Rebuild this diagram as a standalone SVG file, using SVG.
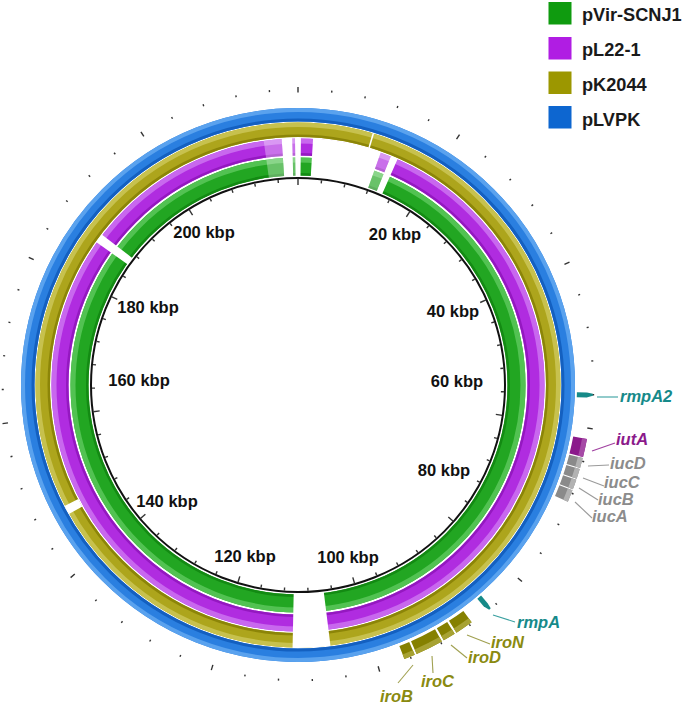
<svg xmlns="http://www.w3.org/2000/svg" xmlns:xlink="http://www.w3.org/1999/xlink" width="685" height="705" viewBox="0 0 685 705">
<style>
.k{font:bold 16.5px "Liberation Sans",Arial,sans-serif;text-anchor:middle;fill:#111}
.gl{font:italic bold 16.5px "Liberation Sans",Arial,sans-serif}
.lg{font:bold 18.2px "Liberation Sans",Arial,sans-serif;fill:#1a1a1a}
.ring{fill:none}
.gap{fill:none;stroke:#fff}
.sec{fill:none}
.ld{stroke-width:1.1;fill:none}
.tk{stroke:#333;stroke-width:1.4}
.teal{fill:#168a88}.tealt{fill:#168a8a}
.pur{stroke:#8b1a8b}.purl{stroke:#a64aa6}
.gry{stroke:#8a8a8a}.gryl{stroke:#b2b2b2}
.olv{stroke:#858000}.olvl{stroke:#a7a232}
</style>
<defs>
<g id="t"><line class="tk" x1="298" y1="88.7" x2="298" y2="90.7"/><line class="tk" x1="298" y1="179" x2="298" y2="182"/></g>
<g id="T"><line class="tk" x1="298" y1="87" x2="298" y2="92.5" stroke-width="1.6"/><line class="tk" x1="298" y1="178.5" x2="298" y2="185"/></g>
</defs>

<g id="legend">
<rect x="548.5" y="2" width="23" height="22.5" fill="#0f9b0f"/><text class="lg" x="582" y="21">pVir-SCNJ1</text>
<rect x="548.5" y="37" width="23" height="22.5" fill="#b01de3"/><text class="lg" x="582" y="56">pL22-1</text>
<rect x="548.5" y="71.5" width="23" height="22.5" fill="#9c9700"/><text class="lg" x="582" y="91">pK2044</text>
<rect x="548.5" y="106" width="23" height="22.5" fill="#0d66d0"/><text class="lg" x="582" y="126">pLVPK</text>
</g>

<g id="rings">
<g id="ring-pVir-SCNJ1">
<circle class="ring" cx="298" cy="385" r="218.5" stroke="#22a622" stroke-width="18"/>
<circle class="ring" cx="298" cy="385" r="225" stroke="#52c252" stroke-width="5"/>
<circle class="ring" cx="298" cy="385" r="210.75" stroke="#138a13" stroke-width="2.5"/>
</g>
<g id="ring-pL22-1">
<circle class="ring" cx="298" cy="385" r="238" stroke="#b02ce0" stroke-width="17"/>
<circle class="ring" cx="298" cy="385" r="244" stroke="#c868ee" stroke-width="5"/>
<circle class="ring" cx="298" cy="385" r="230.75" stroke="#9418c0" stroke-width="2.5"/>
</g>
<g id="ring-pK2044">
<circle class="ring" cx="298" cy="385" r="255.25" stroke="#ada51c" stroke-width="14.5"/>
<circle class="ring" cx="298" cy="385" r="260.25" stroke="#c7c14e" stroke-width="4.5"/>
<circle class="ring" cx="298" cy="385" r="249.25" stroke="#8c8508" stroke-width="2.5"/>
</g>
<g id="ring-pLVPK">
<circle class="ring" cx="298" cy="385" r="270.25" stroke="#2a7fe0" stroke-width="13.5"/>
<circle class="ring" cx="298" cy="385" r="275" stroke="#5aa2ee" stroke-width="4"/>
<circle class="ring" cx="298" cy="385" r="265" stroke="#1460c0" stroke-width="3"/>
</g>
<g id="light-patches" opacity="0.32">
<circle class="gap" cx="298" cy="385" r="227.9" stroke-width="38.8" stroke-dasharray="16.71 3000" transform="rotate(-98 298 385)"/>
<circle class="gap" cx="298" cy="385" r="227.9" stroke-width="38.8" stroke-dasharray="9.94 3000" transform="rotate(-70.4 298 385)"/>
<circle class="gap" cx="298" cy="385" r="227.9" stroke-width="38.8" stroke-dasharray="2.39 3000" transform="rotate(-91.3 298 385)"/>
</g>
<g id="gaps">
<circle class="gap" cx="298" cy="385" r="227.9" stroke-width="38.8" stroke-dasharray="9.94 3000" transform="rotate(-93.8 298 385)"/>
<circle class="gap" cx="298" cy="385" r="227.9" stroke-width="38.8" stroke-dasharray="5.57 3000" transform="rotate(-90.7 298 385)"/>
<circle class="gap" cx="298" cy="385" r="227.9" stroke-width="38.8" stroke-dasharray="64.04 3000" transform="rotate(-86.5 298 385)"/>
<circle class="gap" cx="298" cy="385" r="227.9" stroke-width="38.8" stroke-dasharray="6.76 3000" transform="rotate(-67.9 298 385)"/>
<circle class="gap" cx="298" cy="385" r="227.9" stroke-width="38.8" stroke-dasharray="8.75 3000" transform="rotate(215.3 298 385)"/>
<circle class="gap" cx="298" cy="385" r="255.25" stroke-width="15.5" stroke-dasharray="8.91 3000" transform="rotate(150.6 298 385)"/>
<circle class="gap" cx="298" cy="385" r="255.25" stroke-width="15.5" stroke-dasharray="1.56 3000" transform="rotate(-73.5 298 385)"/>
<circle class="gap" cx="298" cy="385" r="235.65" stroke-width="54.6" stroke-dasharray="34.14 3000" transform="rotate(82.9 298 385)"/>
</g>
<circle id="backbone" cx="298" cy="385" r="207" fill="none" stroke="#111" stroke-width="2"/>
</g>

<g id="ticks">
<use xlink:href="#T"/>
<use xlink:href="#t" transform="rotate(6.564 298 385)"/>
<use xlink:href="#t" transform="rotate(13.128 298 385)"/>
<use xlink:href="#t" transform="rotate(19.691 298 385)"/>
<use xlink:href="#t" transform="rotate(26.255 298 385)"/>
<use xlink:href="#T" transform="rotate(32.819 298 385)"/>
<use xlink:href="#t" transform="rotate(39.383 298 385)"/>
<use xlink:href="#t" transform="rotate(45.947 298 385)"/>
<use xlink:href="#t" transform="rotate(52.511 298 385)"/>
<use xlink:href="#t" transform="rotate(59.074 298 385)"/>
<use xlink:href="#T" transform="rotate(65.638 298 385)"/>
<use xlink:href="#t" transform="rotate(72.202 298 385)"/>
<use xlink:href="#t" transform="rotate(78.766 298 385)"/>
<use xlink:href="#t" transform="rotate(85.330 298 385)"/>
<use xlink:href="#t" transform="rotate(91.893 298 385)"/>
<use xlink:href="#T" transform="rotate(98.457 298 385)"/>
<use xlink:href="#t" transform="rotate(105.021 298 385)"/>
<use xlink:href="#t" transform="rotate(111.585 298 385)"/>
<use xlink:href="#t" transform="rotate(118.149 298 385)"/>
<use xlink:href="#t" transform="rotate(124.713 298 385)"/>
<use xlink:href="#T" transform="rotate(131.276 298 385)"/>
<use xlink:href="#t" transform="rotate(137.840 298 385)"/>
<use xlink:href="#t" transform="rotate(144.404 298 385)"/>
<use xlink:href="#t" transform="rotate(150.968 298 385)"/>
<use xlink:href="#t" transform="rotate(157.532 298 385)"/>
<use xlink:href="#T" transform="rotate(164.096 298 385)"/>
<use xlink:href="#t" transform="rotate(170.659 298 385)"/>
<use xlink:href="#t" transform="rotate(177.223 298 385)"/>
<use xlink:href="#t" transform="rotate(183.787 298 385)"/>
<use xlink:href="#t" transform="rotate(190.351 298 385)"/>
<use xlink:href="#T" transform="rotate(196.915 298 385)"/>
<use xlink:href="#t" transform="rotate(203.478 298 385)"/>
<use xlink:href="#t" transform="rotate(210.042 298 385)"/>
<use xlink:href="#t" transform="rotate(216.606 298 385)"/>
<use xlink:href="#t" transform="rotate(223.170 298 385)"/>
<use xlink:href="#T" transform="rotate(229.734 298 385)"/>
<use xlink:href="#t" transform="rotate(236.297 298 385)"/>
<use xlink:href="#t" transform="rotate(242.861 298 385)"/>
<use xlink:href="#t" transform="rotate(249.425 298 385)"/>
<use xlink:href="#t" transform="rotate(255.989 298 385)"/>
<use xlink:href="#T" transform="rotate(262.553 298 385)"/>
<use xlink:href="#t" transform="rotate(269.117 298 385)"/>
<use xlink:href="#t" transform="rotate(275.680 298 385)"/>
<use xlink:href="#t" transform="rotate(282.244 298 385)"/>
<use xlink:href="#t" transform="rotate(288.808 298 385)"/>
<use xlink:href="#T" transform="rotate(295.372 298 385)"/>
<use xlink:href="#t" transform="rotate(301.936 298 385)"/>
<use xlink:href="#t" transform="rotate(308.499 298 385)"/>
<use xlink:href="#t" transform="rotate(315.063 298 385)"/>
<use xlink:href="#t" transform="rotate(321.627 298 385)"/>
<use xlink:href="#T" transform="rotate(328.191 298 385)"/>
<use xlink:href="#t" transform="rotate(334.755 298 385)"/>
<use xlink:href="#t" transform="rotate(341.319 298 385)"/>
<use xlink:href="#t" transform="rotate(347.882 298 385)"/>
<use xlink:href="#t" transform="rotate(354.446 298 385)"/>
</g>

<g id="scale-labels">
<text class="k" x="395" y="240">20 kbp</text>
<text class="k" x="453" y="317">40 kbp</text>
<text class="k" x="457" y="387">60 kbp</text>
<text class="k" x="444" y="476">80 kbp</text>
<text class="k" x="348" y="563">100 kbp</text>
<text class="k" x="245" y="562">120 kbp</text>
<text class="k" x="167" y="507">140 kbp</text>
<text class="k" x="139" y="386">160 kbp</text>
<text class="k" x="148" y="313">180 kbp</text>
<text class="k" x="204" y="238">200 kbp</text>
</g>

<g id="genes">
<g id="rmpA2">
<polygon class="teal" points="295.5,106 300.5,106 300.5,96 298.5,90 296.5,90 295.5,96" transform="rotate(92 298 385)"/>
<line class="ld" x1="597" y1="397" x2="618" y2="397" stroke="#3aa0a0"/>
<text class="gl tealt" x="620" y="402">rmpA2</text>
</g>
<g id="iutA">
<circle class="sec pur" cx="298" cy="385" r="287" stroke-width="14" stroke-dasharray="18.03 3000" transform="rotate(10.6 298 385)"/>
<circle class="sec purl" cx="298" cy="385" r="291.5" stroke-width="5" stroke-dasharray="18.32 3000" transform="rotate(10.6 298 385)"/>
<line class="ld" x1="592" y1="451" x2="615" y2="443" stroke="#a040a0"/>
<text class="gl" x="616" y="445" fill="#8b1a8b">iutA</text>
</g>
<g id="iucD">
<circle class="sec gry" cx="298" cy="385" r="287" stroke-width="14" stroke-dasharray="10.02 3000" transform="rotate(14.4 298 385)"/>
<circle class="sec gryl" cx="298" cy="385" r="291.5" stroke-width="5" stroke-dasharray="10.18 3000" transform="rotate(14.4 298 385)"/>
<line class="ld" x1="588" y1="466" x2="609" y2="465" stroke="#9a9a9a"/>
<text class="gl" x="610" y="469" fill="#8c8c8c">iucD</text>
</g>
<g id="iucC">
<circle class="sec gry" cx="298" cy="385" r="287" stroke-width="14" stroke-dasharray="10.02 3000" transform="rotate(16.6 298 385)"/>
<circle class="sec gryl" cx="298" cy="385" r="291.5" stroke-width="5" stroke-dasharray="10.18 3000" transform="rotate(16.6 298 385)"/>
<line class="ld" x1="583" y1="478" x2="604" y2="486" stroke="#9a9a9a"/>
<text class="gl" x="604" y="488" fill="#8c8c8c">iucC</text>
</g>
<g id="iucB">
<circle class="sec gry" cx="298" cy="385" r="287" stroke-width="14" stroke-dasharray="10.02 3000" transform="rotate(18.8 298 385)"/>
<circle class="sec gryl" cx="298" cy="385" r="291.5" stroke-width="5" stroke-dasharray="10.18 3000" transform="rotate(18.8 298 385)"/>
<line class="ld" x1="579" y1="488" x2="598" y2="500" stroke="#9a9a9a"/>
<text class="gl" x="598" y="505" fill="#8c8c8c">iucB</text>
</g>
<g id="iucA">
<circle class="sec gry" cx="298" cy="385" r="287" stroke-width="14" stroke-dasharray="12.02 3000" transform="rotate(21 298 385)"/>
<circle class="sec gryl" cx="298" cy="385" r="291.5" stroke-width="5" stroke-dasharray="12.21 3000" transform="rotate(21 298 385)"/>
<line class="ld" x1="575" y1="502" x2="592" y2="518" stroke="#9a9a9a"/>
<text class="gl" x="592" y="522" fill="#8c8c8c">iucA</text>
</g>
<g id="rmpA">
<polygon class="teal" points="295.5,106 300.5,106 300.5,96 298.5,90 296.5,90 295.5,96" transform="rotate(139.5 298 385)"/>
<line class="ld" x1="493" y1="615" x2="515" y2="622" stroke="#3aa0a0"/>
<text class="gl tealt" x="517" y="628">rmpA</text>
</g>
<g id="iroN">
<circle class="sec olv" cx="298" cy="385" r="287" stroke-width="14" stroke-dasharray="18.03 3000" transform="rotate(53.8 298 385)"/>
<circle class="sec olvl" cx="298" cy="385" r="291.5" stroke-width="5" stroke-dasharray="18.32 3000" transform="rotate(53.8 298 385)"/>
<line class="ld" x1="467" y1="635" x2="490" y2="644" stroke="#a0a050"/>
<text class="gl" x="491" y="648" fill="#8a8a10">iroN</text>
</g>
<g id="iroD">
<circle class="sec olv" cx="298" cy="385" r="287" stroke-width="14" stroke-dasharray="12.52 3000" transform="rotate(57.8 298 385)"/>
<circle class="sec olvl" cx="298" cy="385" r="291.5" stroke-width="5" stroke-dasharray="12.72 3000" transform="rotate(57.8 298 385)"/>
<line class="ld" x1="451" y1="645" x2="467" y2="658" stroke="#a0a050"/>
<text class="gl" x="468" y="663" fill="#8a8a10">iroD</text>
</g>
<g id="iroC">
<circle class="sec olv" cx="298" cy="385" r="287" stroke-width="14" stroke-dasharray="27.55 3000" transform="rotate(60.7 298 385)"/>
<circle class="sec olvl" cx="298" cy="385" r="291.5" stroke-width="5" stroke-dasharray="27.98 3000" transform="rotate(60.7 298 385)"/>
<line class="ld" x1="432" y1="656" x2="433" y2="673" stroke="#a0a050"/>
<text class="gl" x="421" y="687" fill="#8a8a10">iroC</text>
</g>
<g id="iroB">
<circle class="sec olv" cx="298" cy="385" r="287" stroke-width="14" stroke-dasharray="11.02 3000" transform="rotate(66.6 298 385)"/>
<circle class="sec olvl" cx="298" cy="385" r="291.5" stroke-width="5" stroke-dasharray="11.19 3000" transform="rotate(66.6 298 385)"/>
<line class="ld" x1="413" y1="665" x2="398" y2="683" stroke="#a0a050"/>
<text class="gl" x="380" y="702" fill="#8a8a10">iroB</text>
</g>
</g>
</svg>
